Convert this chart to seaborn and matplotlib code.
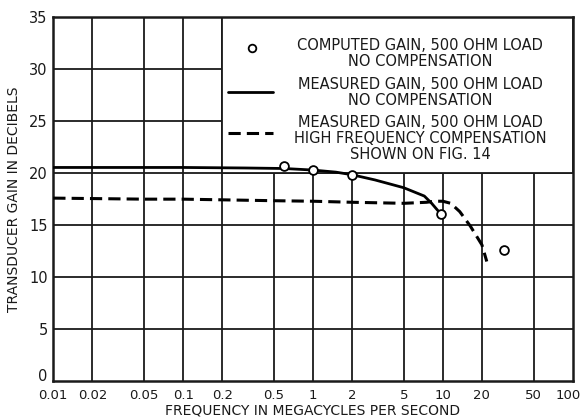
import matplotlib
matplotlib.use("Agg")
import matplotlib.pyplot as plt
import matplotlib.transforms as mtransforms
import seaborn as sns
import pandas as pd
from matplotlib.patches import Rectangle
from matplotlib.lines import Line2D

# ---- data ----
computed_freq = [0.6, 1.0, 2.0, 9.6, 29.5]
computed_gain = [20.7, 20.35, 19.85, 16.1, 12.6]

meas_nocomp_freq = [0.01, 0.05, 0.1, 0.3, 0.6, 1.0, 1.5, 2.0, 3.0, 5.0, 7.2, 8.2, 9.6]
meas_nocomp_gain = [20.55, 20.55, 20.55, 20.5, 20.45, 20.3, 20.1, 19.85, 19.35, 18.6, 17.8, 17.1, 16.1]

meas_comp_freq = [0.01, 0.05, 0.1, 0.5, 1.0, 2.0, 5.0, 7.5, 8.6, 10.0, 11.5, 13.5, 16.3, 20.0, 21.8]
meas_comp_gain = [17.6, 17.5, 17.5, 17.35, 17.3, 17.2, 17.1, 17.2, 17.3, 17.3, 17.1, 16.3, 14.9, 13.1, 11.5]

xtick_vals = [0.01, 0.02, 0.05, 0.1, 0.2, 0.5, 1, 2, 5, 10, 20, 50, 100]
xtick_labels = ["0.01", "0.02", "0.05", "0.1", "0.2", "0.5", "1", "2", "5", "10", "20", "50", "100"]
ytick_vals = [0, 5, 10, 15, 20, 25, 30, 35]

legend_texts = [
    "COMPUTED GAIN, 500 OHM LOAD\nNO COMPENSATION",
    "MEASURED GAIN, 500 OHM LOAD\nNO COMPENSATION",
    "MEASURED GAIN, 500 OHM LOAD\nHIGH FREQUENCY COMPENSATION\nSHOWN ON FIG. 14",
]

sns.set_style("white")
plt.rcParams["font.family"] = ["DejaVu Sans"]

fig = plt.figure(figsize=(5.83, 4.18), dpi=100)
ax = fig.add_axes([0.0914, 0.0885, 0.8909, 0.8701])

ax.set_xscale("log")
ax.set_xlim(0.01, 100)
ax.set_ylim(0, 35)

# grid
for xv in xtick_vals[1:-1]:
    ax.axvline(xv, color="#1a1a1a", lw=1.3, zorder=1)
for yv in ytick_vals[1:-1]:
    ax.axhline(yv, color="#1a1a1a", lw=1.3, zorder=1)

# legend box covering grid
ax.add_patch(Rectangle((0.2, 20), 100 - 0.2, 15, facecolor="white", edgecolor="#1a1a1a",
                       lw=1.3, zorder=2))

df_nc = pd.DataFrame({"f": meas_nocomp_freq, "g": meas_nocomp_gain})
df_c = pd.DataFrame({"f": meas_comp_freq, "g": meas_comp_gain})
df_pts = pd.DataFrame({"f": computed_freq, "g": computed_gain})

sns.lineplot(data=df_nc, x="f", y="g", ax=ax, color="black", lw=2.0, zorder=3, sort=False)
sns.lineplot(data=df_c, x="f", y="g", ax=ax, color="black", lw=2.2, zorder=3, sort=False,
             dashes=False)
ax.lines[-1].set_dashes([4, 2])
sns.scatterplot(data=df_pts, x="f", y="g", ax=ax, s=40, facecolor="white", edgecolor="black",
                linewidth=1.3, zorder=4)

ax.set_xticks(xtick_vals)
ax.set_xticklabels(xtick_labels)
ax.xaxis.set_minor_locator(matplotlib.ticker.NullLocator())
ax.set_yticks(ytick_vals)
ax.tick_params(axis="y", length=0, labelsize=10.5, pad=4, colors="#1a1a1a")
ax.tick_params(axis="x", length=0, labelsize=9.5, pad=6, colors="#1a1a1a")

# lift the "0" label slightly, as in the reference
zero_lbl = ax.get_yticklabels()[0]
zero_lbl.set_transform(zero_lbl.get_transform() +
                       mtransforms.ScaledTranslation(0, 4 / 72, fig.dpi_scale_trans))
# keep "100" inside the canvas
last_lbl = ax.get_xticklabels()[-1]
last_lbl.set_transform(last_lbl.get_transform() +
                       mtransforms.ScaledTranslation(-3 / 72, 0, fig.dpi_scale_trans))

for sp in ax.spines.values():
    sp.set_visible(True)
    sp.set_color("#1a1a1a")
    sp.set_linewidth(1.8)

ax.set_xlabel("FREQUENCY IN MEGACYCLES PER SECOND", fontsize=10, labelpad=1, color="#1a1a1a")
ax.set_ylabel("TRANSDUCER GAIN IN DECIBELS", fontsize=10, labelpad=6, color="#1a1a1a")

# legend entries inside the box (axes fraction coordinates)
tr = ax.transAxes
text_x = 0.706
kw = dict(transform=tr, ha="center", va="center", fontsize=10.5, color="#1a1a1a",
          multialignment="center", linespacing=1.08, zorder=5)
ax.text(text_x, 0.900, legend_texts[0], **kw)
ax.text(text_x, 0.793, legend_texts[1], **kw)
ax.text(text_x, 0.666, legend_texts[2], **kw)

ax.add_line(Line2D([0.383], [0.915], transform=tr, marker="o", markersize=5.5,
                   markerfacecolor="white", markeredgecolor="black", markeredgewidth=1.3,
                   lw=0, zorder=5))
ax.add_line(Line2D([0.336, 0.423], [0.794, 0.794], transform=tr, color="black", lw=2.0, zorder=5))
ax.add_line(Line2D([0.336, 0.423], [0.681, 0.681], transform=tr, color="black", lw=2.2,
                   dashes=[4, 2], zorder=5))

fig.savefig("out.png", dpi=100)
